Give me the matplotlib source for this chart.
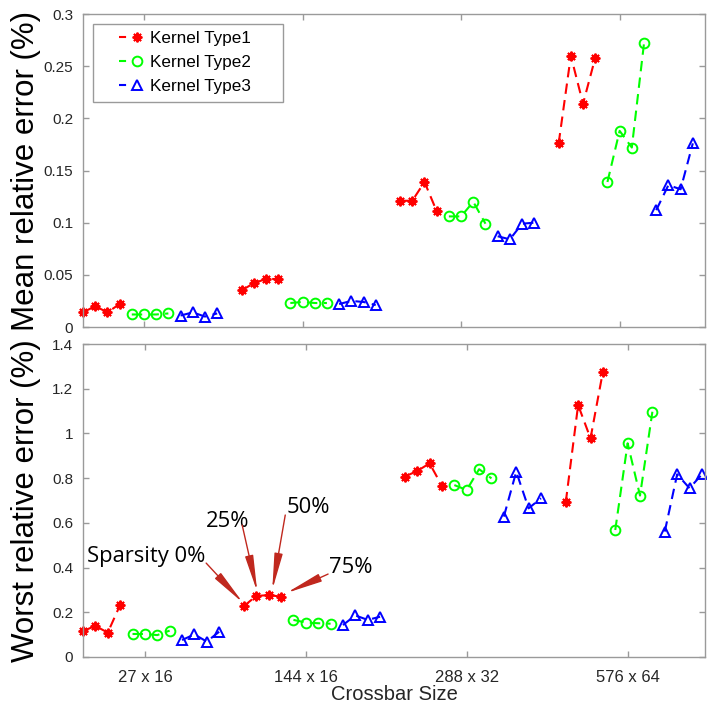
import numpy as np
import matplotlib
matplotlib.use('Agg')
import matplotlib.pyplot as plt
from matplotlib.patches import Rectangle
from matplotlib.lines import Line2D

plt.rcParams['font.family'] = ['Liberation Sans', 'DejaVu Sans']

sizes = ['27 x 16', '144 x 16', '288 x 32', '576 x 64']
kernels = ['Kernel Type1', 'Kernel Type2', 'Kernel Type3']
sparsity = ['Sparsity 0%', '25%', '50%', '75%']

# rows = crossbar size, columns = sparsity 0/25/50/75 %
mean_type1 = [[0.014, 0.020, 0.014, 0.022], [0.035, 0.042, 0.046, 0.046],
              [0.121, 0.121, 0.139, 0.111], [0.176, 0.260, 0.214, 0.258]]
mean_type2 = [[0.012, 0.012, 0.012, 0.013], [0.023, 0.024, 0.023, 0.023],
              [0.106, 0.106, 0.120, 0.099], [0.139, 0.188, 0.172, 0.272]]
mean_type3 = [[0.011, 0.014, 0.010, 0.013], [0.022, 0.025, 0.024, 0.021],
              [0.087, 0.084, 0.099, 0.100], [0.112, 0.136, 0.132, 0.176]]

worst_type1 = [[0.116, 0.139, 0.109, 0.233], [0.228, 0.273, 0.277, 0.270],
               [0.807, 0.832, 0.866, 0.765], [0.692, 1.127, 0.978, 1.276]]
worst_type2 = [[0.103, 0.103, 0.098, 0.118], [0.166, 0.154, 0.151, 0.149],
               [0.769, 0.747, 0.840, 0.799], [0.568, 0.956, 0.722, 1.097]]
worst_type3 = [[0.076, 0.101, 0.069, 0.113], [0.143, 0.186, 0.166, 0.180],
               [0.628, 0.829, 0.665, 0.710], [0.561, 0.817, 0.755, 0.817]]

# annotation positions (data coords of the bottom panel)
label_pos = [(10.87, 0.425), (10.95, 0.583), (17.42, 0.645), (20.9, 0.376)]
arrow_from = [(10.95, 0.42), (13.86, 0.59), (17.34, 0.635), (20.8, 0.371)]
arrow_to = [(13.94, 0.2415), (15.08, 0.291), (16.29, 0.30), (17.42, 0.286)]

colors = ['#ff0000', '#00ff00', '#0000ff']
markers = [(8, 2, 0), 'o', '^']
axis_gray = '#9a9a9a'
text_gray = '#262626'


def build_xy(series, k):
    xs, ys = [], []
    for g, vals in enumerate(series):
        start = 1 + 13 * g + 4 * k
        xs += list(np.arange(start, start + 4)) + [np.nan]
        ys += list(vals) + [np.nan]
    return np.array(xs, dtype=float), np.array(ys, dtype=float)


def style_axes(ax, xmax, ymax, ystep, show_xlabels):
    ax.set_xlim(1, xmax)
    ax.set_ylim(0, ymax)
    ax.set_xticks([1 + 13 * g + 5 for g in range(len(sizes))])
    ax.set_xticklabels(sizes if show_xlabels else [])
    yt = np.arange(0, ymax + ystep / 2, ystep)
    ax.set_yticks(yt)
    ax.set_yticklabels(['0' if v == 0 else ('%g' % round(v, 3)) for v in yt])
    for sp in ax.spines.values():
        sp.set_color(axis_gray)
        sp.set_linewidth(1.0)
    ax.tick_params(direction='in', length=4, width=1, color=axis_gray,
                   top=True, right=True, labelcolor=text_gray)
    ax.tick_params(axis='y', labelsize=11, pad=7)
    ax.tick_params(axis='x', labelsize=12, pad=9)


fig = plt.figure(figsize=(7.07, 7.10), dpi=100)
ax1 = fig.add_axes([83 / 707, 1 - 327 / 710, 622 / 707, 313 / 710])
ax2 = fig.add_axes([83 / 707, 1 - 657 / 710, 622 / 707, 313 / 710])

for i, series in enumerate([mean_type1, mean_type2, mean_type3]):
    x, y = build_xy(series, i)
    ax1.plot(x, y, linestyle=(0, (5, 3)), color=colors[i], lw=1.5,
             marker=markers[i], markersize=7, mew=1.4, mfc='none',
             mec=colors[i], clip_on=False)
for i, series in enumerate([worst_type1, worst_type2, worst_type3]):
    x, y = build_xy(series, i)
    ax2.plot(x, y, linestyle=(0, (5, 3)), color=colors[i], lw=1.5,
             marker=markers[i], markersize=7, mew=1.4, mfc='none',
             mec=colors[i], clip_on=False)

style_axes(ax1, 52.0, 0.3, 0.05, False)
style_axes(ax2, 51.25, 1.4, 0.2, True)

ax1.set_ylabel('Mean relative error (%)', fontsize=22.5, color='black')
ax2.set_ylabel('Worst relative error (%)', fontsize=22.5, color='black')
ax1.yaxis.set_label_coords(-0.068, 0.5)
ax2.yaxis.set_label_coords(-0.068, 0.5)
ax2.set_xlabel('Crossbar Size', fontsize=14.5, color=text_gray)
ax2.xaxis.set_label_coords(0.5, -0.088)

# legend box (MATLAB style, wider than its content)
box = Rectangle((93 / 707, 1 - 102 / 710), 190 / 707, 78 / 710,
                transform=fig.transFigure, facecolor='white',
                edgecolor=axis_gray, lw=1.0, zorder=4, clip_on=False)
ax1.add_patch(box)
handles = [Line2D([0], [0], color=colors[i], lw=1.5, linestyle=(0, (3.4, 20)),
                  marker=markers[i], markersize=7, mew=1.4, mfc='none',
                  mec=colors[i]) for i in range(3)]
leg = ax1.legend(handles, kernels, loc='upper left',
                 bbox_to_anchor=(119 / 707, 1 - 31 / 710),
                 bbox_transform=fig.transFigure, borderaxespad=0, borderpad=0,
                 fontsize=12.3, frameon=False, handlelength=2.05,
                 handletextpad=-0.25, labelspacing=0.52)
leg.set_zorder(5)

arrow_color = '#c0281e'
for k, txt in enumerate(sparsity):
    ha = 'right' if k == 0 else 'left'
    ax2.text(label_pos[k][0], label_pos[k][1], txt, fontsize=15.8, ha=ha,
             va='baseline', family=['Open Sans', 'DejaVu Sans'], color='black')
    ax2.annotate('', xy=arrow_to[k], xytext=arrow_from[k],
                 arrowprops=dict(arrowstyle='-|>,head_length=2.2,head_width=0.25',
                                 mutation_scale=10, color=arrow_color, lw=1.0,
                                 shrinkA=0, shrinkB=0))

fig.savefig('out.png', dpi=100)
